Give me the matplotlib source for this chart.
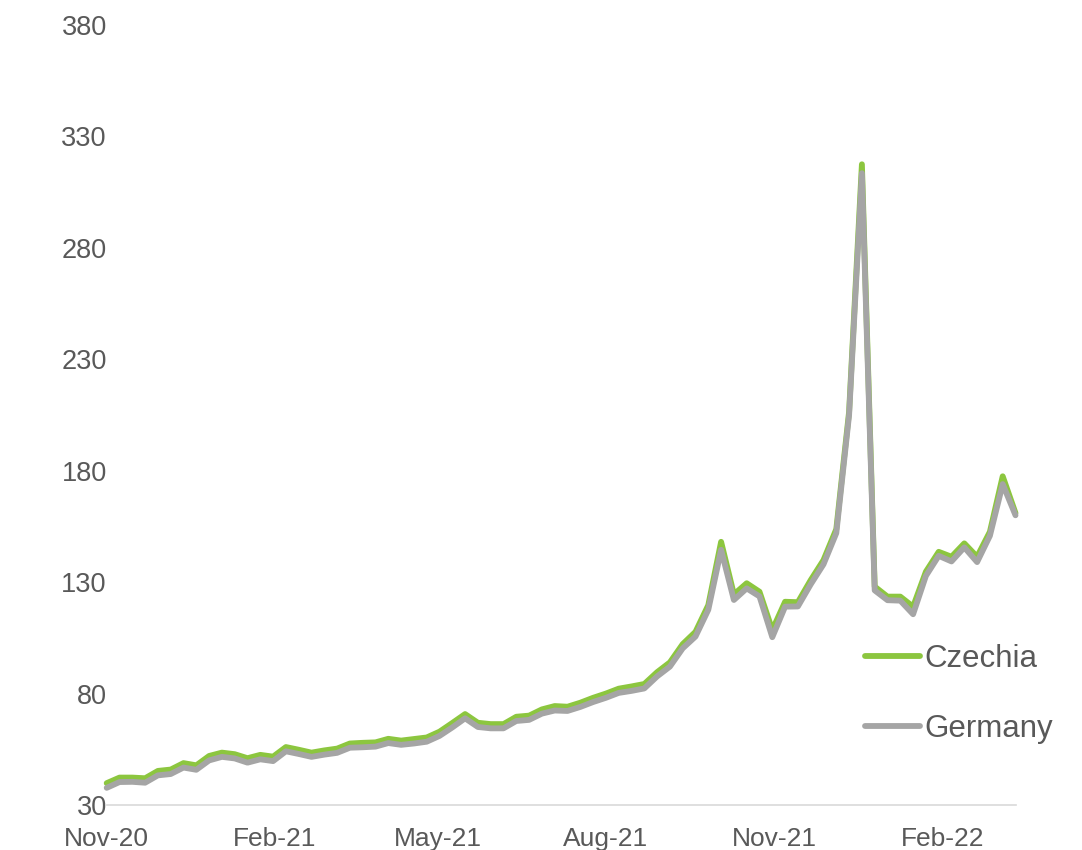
import matplotlib
matplotlib.use("Agg")
import matplotlib.pyplot as plt
import matplotlib.dates as mdates
import numpy as np
import pandas as pd

start_date = "2020-11-01"
n_weeks = 72
tick_dates = ["2020-11-01", "2021-02-01", "2021-05-01", "2021-08-01", "2021-11-01", "2022-02-01"]
tick_labels = ["Nov-20", "Feb-21", "May-21", "Aug-21", "Nov-21", "Feb-22"]
y_ticks = [30, 80, 130, 180, 230, 280, 330, 380]

czechia = [39.8, 42.3, 42.3, 42.0, 45.3, 45.9, 48.8, 47.8, 52.0, 53.5,
           52.8, 51.0, 52.5, 51.7, 56.0, 54.8, 53.5, 54.5, 55.3, 57.6,
           57.9, 58.1, 59.7, 58.9, 59.6, 60.3, 62.9, 66.8, 70.8, 66.9,
           66.3, 66.3, 69.6, 70.1, 72.9, 74.4, 74.1, 75.9, 78.1, 80.0,
           82.2, 83.2, 84.3, 89.6, 94.0, 102.2, 107.7, 119.7, 148.1, 124.5,
           129.5, 125.7, 108.5, 121.2, 121.0, 130.9, 139.9, 153.8, 206.5, 317.5,
           128.0, 123.5, 123.5, 119.0, 134.7, 143.6, 141.4, 147.4, 141.4, 152.6,
           177.5, 161.0]

germany = [37.7, 40.3, 40.4, 40.0, 43.3, 43.9, 46.8, 45.8, 50.0, 51.6,
           50.9, 49.0, 50.5, 49.7, 54.1, 52.9, 51.6, 52.6, 53.4, 55.7,
           55.9, 56.2, 57.8, 57.0, 57.6, 58.4, 61.0, 64.8, 68.9, 65.0,
           64.4, 64.4, 67.7, 68.2, 71.0, 72.4, 72.2, 74.0, 76.2, 78.1,
           80.3, 81.2, 82.3, 87.7, 92.1, 100.3, 105.6, 117.6, 144.5, 122.0,
           127.2, 123.6, 105.3, 119.0, 119.1, 129.0, 138.0, 152.0, 205.0, 313.5,
           126.3, 121.9, 121.7, 115.6, 132.8, 141.8, 139.3, 145.6, 139.0, 150.8,
           174.0, 160.0]

dates = pd.date_range(start_date, periods=n_weeks, freq="7D")

plt.rcParams["font.family"] = ["Liberation Sans", "DejaVu Sans"]

fig = plt.figure(figsize=(10.82, 8.5), dpi=100)
ax = fig.add_axes([106.7 / 1082, 45 / 850, (1015.5 - 106.7) / 1082, 780 / 850])

green = "#8CC63F"
grey = "#A5A5A5"
lw = 4.2
ax.plot(dates, czechia, color=green, lw=lw, solid_joinstyle="round",
        solid_capstyle="round", label="Czechia", clip_on=False)
ax.plot(dates, germany, color=grey, lw=lw, solid_joinstyle="round",
        solid_capstyle="round", label="Germany", clip_on=False)

ax.set_ylim(30, 380)
ax.set_yticks(y_ticks)
ax.set_xlim(dates[0], dates[-1])
ax.set_xticks(pd.to_datetime(tick_dates))
ax.set_xticklabels(tick_labels)

for s in ["top", "right", "left"]:
    ax.spines[s].set_visible(False)
ax.spines["bottom"].set_color("#D9D9D9")
ax.spines["bottom"].set_linewidth(1.2)
ax.spines["bottom"].set_zorder(0)

ax.tick_params(axis="both", length=0, labelsize=19, colors="#595959")
ax.tick_params(axis="x", pad=16)
ax.tick_params(axis="y", labelsize=19.5, pad=0)

leg = ax.legend(loc="center left", bbox_to_anchor=(865 / 1082, 1 - 694 / 850),
                bbox_transform=fig.transFigure, frameon=False, fontsize=22.5,
                handlelength=1.75, handletextpad=0.15, labelspacing=1.3,
                borderpad=0, borderaxespad=0)
for t in leg.get_texts():
    t.set_color("#595959")
for h in leg.get_lines():
    h.set_solid_capstyle("round")

fig.savefig("out.png", dpi=100)
